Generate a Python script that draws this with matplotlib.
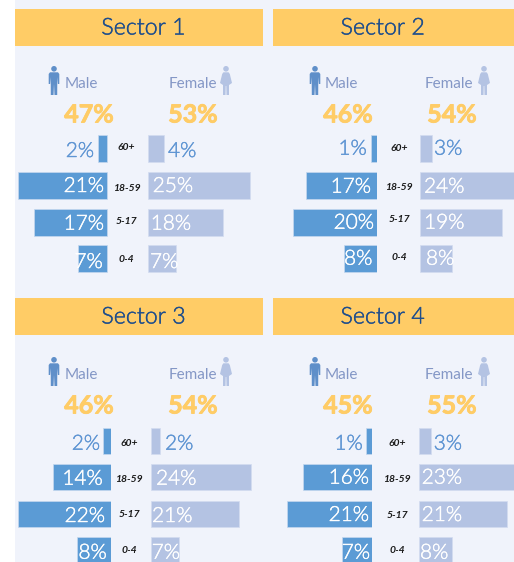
import matplotlib
matplotlib.use("Agg")
import matplotlib.pyplot as plt
import matplotlib.patheffects as pe
from matplotlib.patches import Rectangle, Circle, Polygon

W, H = 514, 562

sectors = ["Sector 1", "Sector 2", "Sector 3", "Sector 4"]
ages = ["60+", "18-59", "5-17", "0-4"]

male_total = ["47%", "46%", "46%", "45%"]
female_total = ["53%", "54%", "54%", "55%"]

# labels printed on the bars
male_labels = [[2, 21, 17, 7], [1, 17, 20, 8], [2, 14, 22, 8], [1, 16, 21, 7]]
female_labels = [[4, 25, 18, 7], [3, 24, 19, 8], [2, 24, 21, 7], [3, 23, 21, 8]]

# bar lengths read off the picture, not quite the rounded labels
male_vals = [[2.3, 21.3, 17.5, 7.0], [1.4, 16.9, 20.0, 7.9], [1.9, 13.8, 22.1, 8.1], [1.4, 16.4, 20.2, 7.1]]
female_vals = [[3.8, 24.3, 17.9, 6.7], [2.9, 24.5, 19.5, 7.6], [2.1, 23.8, 21.0, 6.7], [2.9, 23.5, 21.0, 7.9]]

# layout in pixels
banner_x = [(15, 263), (273, 514), (15, 263), (273, 514)]
banner_y = [9, 9, 298, 298]
title_x = [143.5, 382.7, 143.5, 382.7]
male_edge = [107.5, 377, 111, 372]
female_edge = [148, 420, 151, 419]
row_top = [[135, 172, 209, 245], [135, 172, 209, 245], [428, 464, 501, 537], [428, 464, 501, 537]]
head_y = [66, 66, 357, 357]
person_x = [(54, 226), (315, 484), (54, 226), (315, 484)]
word_x = [(65, 217), (325, 473), (65, 217), (325, 473)]
total_x = [(89, 193), (348, 452), (89, 193), (348, 452)]
age_x = [126.5, 399, 129, 397]
age_y = [[146.7, 187.7, 221, 258], [147.7, 186.7, 219, 257], [442.7, 478, 513.7, 549.7], [443, 478, 514, 549.7]]
text_y = [[150, 185, 222.7, 261], [147.7, 185.7, 221.7, 257.7], [442.7, 477.7, 515, 551.7], [442.7, 476.7, 514, 551.7]]
male_text_x = [[94, 104, 104, 102.7], [366.7, 371, 374, 372.3], [100, 102.7, 105, 106.7], [362.7, 369, 369, 370]]
female_text_x = [[168, 152.7, 150.7, 150], [434, 424, 424, 426], [165, 156, 152, 151.7], [433.7, 421.7, 421.7, 420]]
BAR_H = 26.5
PX_PER_PCT = 4.2

BG = "#f0f3fb"
BANNER = "#ffcc66"
NAVY = "#1f4e8c"
BLUE = "#5b9bd5"
LILAC = "#b4c3e3"
LABEL = "#8497c6"
SMALL_TXT = "#5f95d3"
FONT = ["Lato", "DejaVu Sans"]

fig = plt.figure(figsize=(W / 100, H / 100), dpi=100, facecolor="white")

back = fig.add_axes([0, 0, 1, 1], zorder=0)
back.set_xlim(0, W)
back.set_ylim(H, 0)
back.axis("off")
back.add_patch(Rectangle((15, 0), W - 15, H, color=BG, lw=0))

top = fig.add_axes([0, 0, 1, 1], zorder=5)
top.set_xlim(0, W)
top.set_ylim(H, 0)
top.axis("off")
top.patch.set_alpha(0)


def person(ax, cx, y, color, female=False):
    # little pictogram, 29 px tall
    ax.add_patch(Circle((cx, y + 2.8), 2.8, color=color, lw=0))
    if female:
        pts = [(cx - 2.6, y + 6.3), (cx + 2.6, y + 6.3), (cx + 3.8, y + 8), (cx + 6, y + 17), (cx + 4.5, y + 18),
               (cx + 3, y + 19), (cx + 3, y + 29), (cx + .5, y + 29), (cx + .3, y + 20), (cx - .3, y + 20),
               (cx - .5, y + 29), (cx - 3, y + 29), (cx - 3, y + 19), (cx - 4.5, y + 18), (cx - 6, y + 17),
               (cx - 3.8, y + 8)]
    else:
        pts = [(cx - 4, y + 6.3), (cx + 4, y + 6.3), (cx + 5.3, y + 8), (cx + 5.3, y + 18), (cx + 3.9, y + 18),
               (cx + 3.3, y + 11), (cx + 3.2, y + 29), (cx + .5, y + 29), (cx, y + 18), (cx - .5, y + 29),
               (cx - 3.2, y + 29), (cx - 3.3, y + 11), (cx - 3.9, y + 18), (cx - 5.3, y + 18), (cx - 5.3, y + 8)]
    ax.add_patch(Polygon(pts, closed=True, color=color, lw=0))


def side_axes(edge, y, width, flip):
    # one axes per side, bars grow off the inner edge
    x0 = edge - width if flip else edge
    h = H - y
    ax = fig.add_axes([x0 / W, 1 - (y + h) / H, width / W, h / H], zorder=2)
    if flip:
        ax.set_xlim(width / PX_PER_PCT, 0)
    else:
        ax.set_xlim(0, width / PX_PER_PCT)
    ax.set_ylim(y + h, y)
    ax.axis("off")
    ax.patch.set_alpha(0)
    return ax


def thicken(txt, color, lw=0.3):
    # Lato Light alone is a bit too thin, Regular too heavy
    txt.set_path_effects([pe.withStroke(linewidth=lw, foreground=color)])


for i, name in enumerate(sectors):
    x0, x1 = banner_x[i]
    by = banner_y[i]
    back.add_patch(Rectangle((x0, by), x1 - x0, 37, color=BANNER, lw=0))
    t = top.text(title_x[i], by + 19, name, color=NAVY, fontsize=16.7, weight=300, ha="center", va="center", family=FONT)
    thicken(t, NAVY)

    me, fe = male_edge[i], female_edge[i]
    tops = row_top[i]
    hy = head_y[i]
    person(top, person_x[i][0], hy, "#5f8fc9")
    person(top, person_x[i][1], hy, LILAC, female=True)
    top.text(word_x[i][0], hy + 18, "Male", color=LABEL, fontsize=11, ha="left", va="center", family=FONT)
    top.text(word_x[i][1], hy + 18, "Female", color=LABEL, fontsize=11, ha="right", va="center", family=FONT)
    for tx, s in zip(total_x[i], (male_total[i], female_total[i])):
        t = top.text(tx, hy + 49, s, color=BANNER, fontsize=18, weight="bold", ha="center", va="center", family=FONT)
        thicken(t, BANNER, 0.6)

    ax_m = side_axes(me, tops[0] - 5, 100, True)
    ax_f = side_axes(fe, tops[0] - 5, 110, False)
    centers = [t + BAR_H / 2 for t in tops]
    ax_m.barh(centers, male_vals[i], height=BAR_H, color=BLUE, edgecolor="#c5d8ef", lw=0.5)
    ax_f.barh(centers, female_vals[i], height=BAR_H, color=LILAC, edgecolor="#d3dcf0", lw=0.5)

    for j in range(4):
        top.text(age_x[i], age_y[i][j] + 1, ages[j], color="#1a1a1a", fontsize=7.5, style="italic", weight="bold",
                 ha="center", va="center", family=FONT)
        c_m = SMALL_TXT if male_vals[i][j] < 4 else "white"
        c_f = SMALL_TXT if female_vals[i][j] < 5 else "white"
        t = top.text(male_text_x[i][j], text_y[i][j] + 1, "%d%%" % male_labels[i][j], color=c_m, fontsize=15,
                     weight=300, ha="right", va="center", family=FONT)
        thicken(t, c_m)
        t = top.text(female_text_x[i][j], text_y[i][j] + 1, "%d%%" % female_labels[i][j], color=c_f, fontsize=15,
                     weight=300, ha="left", va="center", family=FONT)
        thicken(t, c_f)

fig.savefig("out.png", dpi=100)
